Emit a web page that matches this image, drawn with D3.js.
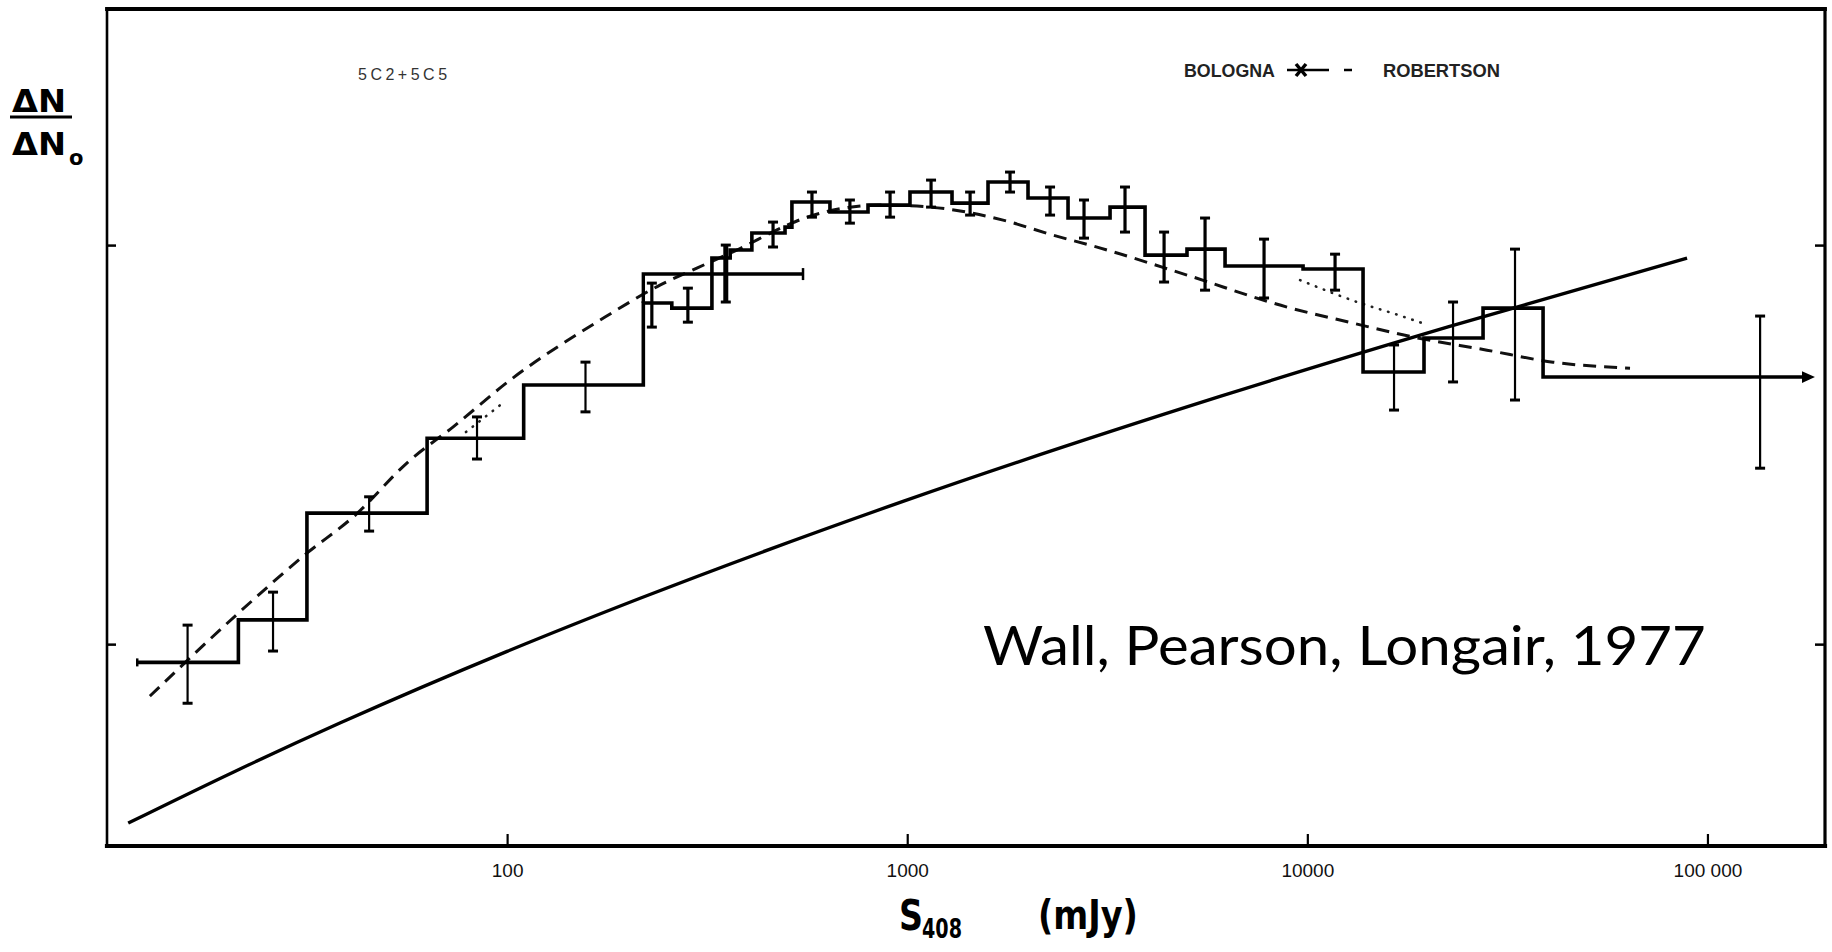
<!DOCTYPE html>
<html>
<head>
<meta charset="utf-8">
<script src="https://cdn.jsdelivr.net/npm/d3@7"></script>
<style>
body { margin: 0; background: #fff; }
svg { display: block; }
</style>
</head>
<body>
<svg id="vis" width="1832" height="952"></svg>
<script>
var vis = d3.select("#vis");

// step histogram: bin edges in mJy, normalised counts per bin
var binEdges = [11.9, 21.3, 31.6, 63.1, 110, 219, 258, 325, 361, 409, 495, 515, 641, 798, 1016, 1294, 1592, 2004, 2523, 3213, 3930, 5003, 6228, 9757, 13780, 19570, 27490, 38830, 177500];
var binVals = [0.090, 0.115, 0.213, 0.328, 0.446, 0.716, 0.695, 0.928, 0.972, 1.072, 1.109, 1.282, 1.210, 1.259, 1.358, 1.274, 1.439, 1.312, 1.169, 1.245, 0.944, 0.977, 0.886, 0.871, 0.481, 0.585, 0.695, 0.467];

// error bars
var errS  = [15.9, 26.0, 45.2, 84.1, 157, 230, 283, 462, 578, 719, 906, 1147, 1436, 1807, 2275, 2766, 3502, 4385, 5551, 7795, 11730, 16470, 23130, 33040, 135400];
var errLo = [0.0711, 0.0961, 0.192, 0.291, 0.382, 0.623, 0.641, 0.989, 1.175, 1.135, 1.175, 1.245, 1.189, 1.358, 1.189, 1.041, 1.078, 0.808, 0.771, 0.737, 0.771, 0.386, 0.454, 0.409, 0.276];
var errHi = [0.1116, 0.135, 0.234, 0.371, 0.509, 0.803, 0.780, 1.142, 1.358, 1.297, 1.358, 1.455, 1.358, 1.524, 1.398, 1.297, 1.398, 1.078, 1.169, 1.035, 0.949, 0.562, 0.720, 0.977, 0.664];

// Bologna point (horizontal extent + error)
var bolognaS = [219, 549];
var bolognaVal = 0.846;
var bolognaErr = [352, 0.720, 1.0];

// solid model curve
var modelS   = [11.3, 20.8, 38.2, 100, 215, 976, 6050, 22470, 88930];
var modelVal = [0.0356, 0.0479, 0.0634, 0.0959, 0.1303, 0.2279, 0.4176, 0.6237, 0.9272];

// dashed curve (Robertson)
var dashS   = [12.8, 21.3, 31.6, 41.2, 57.2, 73.2, 101.7, 175.7, 241, 298, 375, 501, 562, 855, 1140, 1736, 2314, 2982, 5003, 8898, 13010, 18380, 28120, 41130, 64050];
var dashVal = [0.0741, 0.1196, 0.1690, 0.2081, 0.2891, 0.3499, 0.4587, 0.6601, 0.7937, 0.8757, 0.9716, 1.122, 1.175, 1.260, 1.245, 1.155, 1.059, 0.9885, 0.8410, 0.6992, 0.6374, 0.5882, 0.5454, 0.5088, 0.4915];

// dotted fragments
var dot1S = [78.9, 98.2], dot1Val = [0.340, 0.404];
var dot2S = [9590, 13540, 16570, 19690], dot2Val = [0.817, 0.716, 0.672, 0.634];

// axes
var xTicks = [100, 1000, 10000, 100000];
var xTickLabels = ["100", "1000", "10000", "100 000"];
var yTicks = [0.1, 1];

// plot frame (window.top is reserved, so no "top" here)
var fL = 107, fR = 1825, fT = 9, fB = 846;

var x = d3.scaleLog().domain([10, 196700]).range([fL, fR]);
var y = d3.scaleLog().domain([0.0312, 3.905]).range([fB, fT]);

function zip(a, b) {
    return a.map((d, i) => [d, b[i]]);
}

var smooth = d3.line().x(d => x(d[0])).y(d => y(d[1])).curve(d3.curveMonotoneX);
var stepped = d3.line().x(d => x(d[0])).y(d => y(d[1])).curve(d3.curveStepAfter);

vis.append("defs").append("marker")
    .attr("id", "arrow")
    .attr("viewBox", "0 -5 10 10")
    .attr("refX", 4)
    .attr("markerUnits", "userSpaceOnUse")
    .attr("markerWidth", 13)
    .attr("markerHeight", 13)
    .attr("orient", "auto")
    .append("path")
    .attr("d", "M0,-4.5L10,0L0,4.5Z")
    .attr("fill", "#000");

// dashed curve
vis.append("path")
    .attr("d", smooth(zip(dashS, dashVal)))
    .attr("fill", "none")
    .attr("stroke", "#111")
    .attr("stroke-width", 3)
    .attr("stroke-dasharray", "13 8");

// dotted fragments
[zip(dot1S, dot1Val), zip(dot2S, dot2Val)].forEach(pts => {
    vis.append("path")
        .attr("d", smooth(pts))
        .attr("fill", "none")
        .attr("stroke", "#222")
        .attr("stroke-width", 2.6)
        .attr("stroke-linecap", "round")
        .attr("stroke-dasharray", "0.5 8");
});

// model curve
vis.append("path")
    .attr("d", smooth(zip(modelS, modelVal)))
    .attr("fill", "none")
    .attr("stroke", "#000")
    .attr("stroke-width", 3.3);

// histogram
var steps = zip(binEdges.slice(0, -1), binVals);
steps.push([binEdges[binEdges.length - 1], binVals[binVals.length - 1]]);
vis.append("path")
    .attr("d", stepped(steps))
    .attr("fill", "none")
    .attr("stroke", "#000")
    .attr("stroke-width", 3.6)
    .attr("marker-end", "url(#arrow)");

vis.append("line")
    .attr("x1", x(binEdges[0])).attr("x2", x(binEdges[0]))
    .attr("y1", y(binVals[0]) - 4).attr("y2", y(binVals[0]) + 4)
    .attr("stroke", "#000").attr("stroke-width", 2.5);

// Bologna box
vis.append("path")
    .attr("d", d3.line()([
        [x(bolognaS[0]), y(binVals[5])],
        [x(bolognaS[0]), y(bolognaVal)],
        [x(bolognaS[1]), y(bolognaVal)]
    ]))
    .attr("fill", "none")
    .attr("stroke", "#000")
    .attr("stroke-width", 3.4);
vis.append("line")
    .attr("x1", x(bolognaS[1])).attr("x2", x(bolognaS[1]))
    .attr("y1", y(bolognaVal) - 6).attr("y2", y(bolognaVal) + 6)
    .attr("stroke", "#000").attr("stroke-width", 2.5);

// error bars
var errs = errS.map((s, i) => ({ S: s, lo: errLo[i], hi: errHi[i], w: s > 200 && s < 12000 ? 3.2 : 2.2 }));
errs.push({ S: bolognaErr[0], lo: bolognaErr[1], hi: bolognaErr[2], w: 5 });

var eb = vis.selectAll(".err").data(errs).enter().append("g")
    .attr("class", "err")
    .attr("stroke", "#000");
eb.append("line")
    .attr("x1", d => x(d.S)).attr("x2", d => x(d.S))
    .attr("y1", d => y(d.hi)).attr("y2", d => y(d.lo))
    .attr("stroke-width", d => d.w);
eb.append("line")
    .attr("x1", d => x(d.S) - 5).attr("x2", d => x(d.S) + 5)
    .attr("y1", d => y(d.hi)).attr("y2", d => y(d.hi))
    .attr("stroke-width", 3);
eb.append("line")
    .attr("x1", d => x(d.S) - 5).attr("x2", d => x(d.S) + 5)
    .attr("y1", d => y(d.lo)).attr("y2", d => y(d.lo))
    .attr("stroke-width", 3);

// axes
var xAxis = vis.append("g")
    .attr("transform", `translate(0 ${fB})`)
    .call(d3.axisBottom(x).tickValues(xTicks).tickFormat((d, i) => xTickLabels[i])
        .tickSizeInner(-12).tickSizeOuter(0).tickPadding(18));
xAxis.selectAll(".tick line").attr("stroke-width", 2.2);
xAxis.selectAll("text")
    .attr("font-family", "Liberation Sans Narrow, Liberation Sans, Arial, sans-serif")
    .attr("font-size", "19px")
    .attr("fill", "#111");

vis.append("g")
    .attr("transform", `translate(${fL} 0)`)
    .call(d3.axisLeft(y).tickValues(yTicks).tickFormat("").tickSizeInner(-9).tickSizeOuter(0))
    .selectAll(".tick line").attr("stroke-width", 2.5);
vis.append("g")
    .attr("transform", `translate(${fR} 0)`)
    .call(d3.axisRight(y).tickValues(yTicks).tickFormat("").tickSizeInner(-10).tickSizeOuter(0))
    .selectAll(".tick line").attr("stroke-width", 2.5);
vis.selectAll(".domain").remove();

// frame
var frame = [
    [fL, fT, fR, fT, 3.8],
    [fL, fT, fL, fB, 2.6],
    [fL, fB, fR, fB, 4.2],
    [fR, fT, fR, fB, 3.2]
];
vis.selectAll(".frame").data(frame).enter().append("line")
    .attr("class", "frame")
    .attr("x1", d => d[0]).attr("y1", d => d[1])
    .attr("x2", d => d[2]).attr("y2", d => d[3])
    .attr("stroke", "#000")
    .attr("stroke-width", d => d[4])
    .attr("stroke-linecap", "square");

// squeeze a text horizontally to a given width
function fitText(t, w) {
    var x0 = +t.attr("x");
    var len = t.node().getComputedTextLength();
    t.attr("transform", `translate(${x0} 0) scale(${w / len} 1) translate(${-x0} 0)`);
}

// in-plot labels
vis.append("text")
    .attr("x", 358).attr("y", 80)
    .attr("font-family", "Liberation Sans, Arial, sans-serif")
    .attr("font-size", "16px")
    .attr("letter-spacing", "3.5px")
    .attr("fill", "#333")
    .text("5C2+5C5");

var legFont = "Liberation Sans, Arial, sans-serif";
fitText(vis.append("text")
    .attr("x", 1184).attr("y", 77)
    .attr("font-family", legFont).attr("font-size", "18px").attr("font-weight", "bold")
    .attr("fill", "#222")
    .text("BOLOGNA"), 91);
fitText(vis.append("text")
    .attr("x", 1383).attr("y", 77)
    .attr("font-family", legFont).attr("font-size", "18px").attr("font-weight", "bold")
    .attr("fill", "#222")
    .text("ROBERTSON"), 117);
vis.append("line")
    .attr("x1", 1287).attr("x2", 1329).attr("y1", 70).attr("y2", 70)
    .attr("stroke", "#000").attr("stroke-width", 2.5);
vis.append("path")
    .attr("d", "M1296,64L1306,76M1296,76L1306,64")
    .attr("stroke", "#000").attr("stroke-width", 3.5);
vis.append("line")
    .attr("x1", 1344).attr("x2", 1352).attr("y1", 70).attr("y2", 70)
    .attr("stroke", "#000").attr("stroke-width", 2.5);

// y label: dN / dN0
var labFont = "DejaVu Sans, sans-serif";
fitText(vis.append("text")
    .attr("x", 12).attr("y", 112)
    .attr("font-family", labFont).attr("font-size", "32px").attr("font-weight", "bold")
    .text("ΔN"), 54);
vis.append("line")
    .attr("x1", 10).attr("x2", 72).attr("y1", 117).attr("y2", 117)
    .attr("stroke", "#000").attr("stroke-width", 3);
fitText(vis.append("text")
    .attr("x", 12).attr("y", 155)
    .attr("font-family", labFont).attr("font-size", "32px").attr("font-weight", "bold")
    .text("ΔN"), 54);
vis.append("text")
    .attr("x", 69).attr("y", 165)
    .attr("font-family", labFont).attr("font-size", "21px").attr("font-weight", "bold")
    .text("o");

// x label
fitText(vis.append("text")
    .attr("x", 899).attr("y", 930)
    .attr("font-family", labFont).attr("font-size", "42px").attr("font-weight", "bold")
    .text("S"), 24);
fitText(vis.append("text")
    .attr("x", 922).attr("y", 938)
    .attr("font-family", labFont).attr("font-size", "26px").attr("font-weight", "bold")
    .text("408"), 40);
fitText(vis.append("text")
    .attr("x", 1038).attr("y", 929)
    .attr("font-family", labFont).attr("font-size", "40px").attr("font-weight", "bold")
    .text("(mJy)"), 100);

// citation
fitText(vis.append("text")
    .attr("x", 983).attr("y", 665)
    .attr("font-family", "Lato, Open Sans, sans-serif")
    .attr("font-size", "55px")
    .attr("fill", "#000")
    .text("Wall, Pearson, Longair, 1977"), 723);
</script>
</body>
</html>
